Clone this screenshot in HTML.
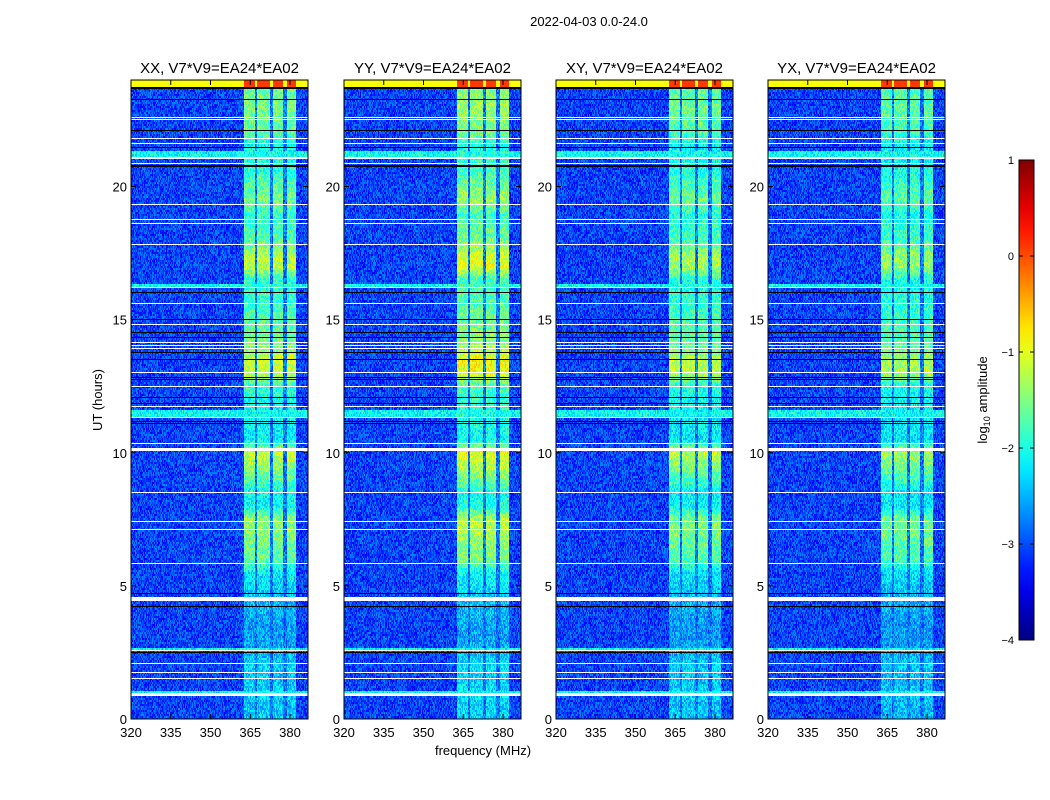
<!DOCTYPE html>
<html><head><meta charset="utf-8">
<style>
body{margin:0;background:#fff;font-family:"Liberation Sans",sans-serif;}
#wrap{position:relative;width:1050px;height:800px;overflow:hidden;}
canvas{position:absolute;image-rendering:pixelated;}
svg{position:absolute;left:0;top:0;}
</style></head>
<body>
<div id="wrap">
<svg id="svg" width="1050" height="800"></svg>
</div>
<script>
// ---- data ----
const panelTitles = ["XX, V7*V9=EA24*EA02","YY, V7*V9=EA24*EA02","XY, V7*V9=EA24*EA02","YX, V7*V9=EA24*EA02"];
const panelBandScale = [1.0, 1.1, 0.95, 0.9];
const xTicks = [320,335,350,365,380];
const yTicks = [0,5,10,15,20];
const cbTicks = [-4,-3,-2,-1,0,1];
const bands = [[362.6,366.8],[367.6,372.3],[373.4,377.5],[378.7,382.4]];
// band level (log10 amplitude) per half hour, 0..24h
const bandHours = [0,0.5,1,1.5,2,2.5,3,3.5,4,4.5,5,5.5,6,6.5,7,7.5,8,8.5,9,9.5,10,10.5,11,11.5,12,12.5,13,13.5,14,14.5,15,15.5,16,16.5,17,17.5,18,18.5,19,19.5,20,20.5,21,21.5,22,22.5,23,23.5,24];
const bandLevel = [-2.4,-2.4,-2.3,-2.4,-2.3,-2.5,-2.6,-2.6,-2.5,-2.5,-2.3,-2.2,-1.6,-1.6,-1.4,-1.4,-2.1,-2.1,-1.7,-1.4,-1.1,-2.2,-2.1,-2.1,-2.0,-1.9,-1.1,-1.1,-1.5,-1.6,-1.7,-1.8,-1.9,-1.9,-1.2,-1.3,-1.7,-1.8,-1.9,-1.5,-1.7,-1.9,-2.0,-2.1,-1.7,-1.6,-1.5,-1.6,-1.6];
const baseLevel = -3.05;
const gapLevel = -2.8;
const whiteRows = [[0.86,0.97],[1.5,1.53],[1.72,1.75],[2.06,2.09],[2.55,2.6],[3.63,3.66],[4.34,4.37],[4.45,4.57],[4.83,4.86],[5.84,5.87],[7.1,7.13],[7.4,7.43],[8.1,8.13],[8.4,8.43],[8.5,8.53],[10.08,10.18],[10.33,10.36],[10.5,10.53],[11.3,11.34],[11.72,11.76],[12.47,12.5],[13.0,13.04],[13.9,13.93],[14.02,14.05],[14.12,14.15],[14.8,14.83],[15.6,15.63],[16.18,16.24],[17.8,17.83],[18.5,18.53],[18.6,18.63],[18.75,18.78],[19.3,19.33],[20.86,20.9],[21.03,21.09],[21.6,21.63],[21.8,21.83],[22.5,22.53],[22.58,22.61]];
const blackRows = [[2.47,2.5],[2.73,2.76],[4.2,4.24],[4.68,4.72],[11.08,11.11],[11.15,11.18],[11.84,11.88],[12.06,12.1],[12.73,12.76],[12.8,12.83],[13.5,13.53],[13.75,13.78],[14.3,14.33],[14.5,14.53],[15.0,15.03],[15.2,15.23],[16.0,16.04],[20.75,20.79],[21.45,21.48],[22.1,22.13],[23.25,23.29],[23.67,23.73]];
const cyanRows = [[0.97,1.05],[2.6,2.65],[11.35,11.6],[16.24,16.32],[21.09,21.35]];
const cyanLevel = -2.1;
const topRow = [23.75,24.0];
const topLevel = -0.9;
const topBandLevel = 0.1;

// ---- geometry ----
const panelX = [131,344,556,768], panelY = 80, panelW = 177, panelH = 639;
const fMin = 320, fMax = 320 + panelW/2.65, tMin = 0, tMax = 24;
const xScale = f => (f - fMin)/(fMax - fMin)*panelW;
const yScale = t => panelH - (t - tMin)/(tMax - tMin)*panelH;

function jet(v){
  let t=(v+4)/5; t=Math.max(0,Math.min(1,t));
  const c=x=>Math.round(255*Math.max(0,Math.min(1,x)));
  return [c(1.5-Math.abs(4*t-3)),c(1.5-Math.abs(4*t-2)),c(1.5-Math.abs(4*t-1))];
}
function inR(arr,t){for(const r of arr){if(t>=r[0]&&t<=r[1])return true;}return false;}
function interp(h){
  for(let i=0;i<bandHours.length-1;i++){if(h>=bandHours[i]&&h<=bandHours[i+1]){const a=(h-bandHours[i])/(bandHours[i+1]-bandHours[i]);return bandLevel[i]*(1-a)+bandLevel[i+1]*a;}}
  return bandLevel[bandLevel.length-1];
}
function texture(x,y,p){let n=Math.sin(x*12.9898+y*78.233+p*37.719)*43758.5453;return n-Math.floor(n);}

const wrap=document.getElementById('wrap');
panelX.forEach((px,p)=>{
  const cv=document.createElement('canvas');
  
  
  cv.width=panelW;cv.height=panelH;cv.style.left=px+'px';cv.style.top=panelY+'px';
  const ctx=cv.getContext('2d');const img=ctx.createImageData(panelW,panelH);
  for(let y=0;y<panelH;y++){
    const t=tMax-(y+0.5)/panelH*(tMax-tMin);
    const white=inR(whiteRows,t), black=inR(blackRows,t), cyan=inR(cyanRows,t), top=t>=topRow[0];
    const bl=interp(t);
    for(let x=0;x<panelW;x++){
      const f=fMin+(x+0.5)/panelW*(fMax-fMin);
      let inBand=false;for(const b of bands){if(f>=b[0]&&f<=b[1])inBand=true;}
      const inSpan=f>=bands[0][0]&&f<=bands[3][1];
      let v=baseLevel;
      if(cyan)v=cyanLevel;
      if(inBand)v=Math.max(v,baseLevel+(bl-baseLevel)*panelBandScale[p]);
      else if(inSpan)v=Math.max(v,gapLevel);
      v+=(texture(x,Math.floor(y/2),p)-0.5)*0.75;
      if(top)v=inBand?topBandLevel:topLevel;
      let c=jet(v);
      if(white)c=[255,255,255];
      if(black)c=[0,0,0];
      const i=(y*panelW+x)*4;img.data[i]=c[0];img.data[i+1]=c[1];img.data[i+2]=c[2];img.data[i+3]=255;
    }
  }
  ctx.putImageData(img,0,0);
  wrap.insertBefore(cv,document.getElementById('svg'));
});

// ---- axes (SVG) ----
const NS='http://www.w3.org/2000/svg',svg=document.getElementById('svg');
function el(tag,attrs,text){const e=document.createElementNS(NS,tag);for(const k in attrs)e.setAttribute(k,attrs[k]);if(text!==undefined)e.textContent=text;svg.appendChild(e);return e;}
const sup=el('text',{x:589,y:26,'font-size':13,'text-anchor':'middle'},'2022-04-03 0.0-24.0');


panelX.forEach((px,p)=>{
  const fr=el('rect',{x:px,y:panelY,width:panelW,height:panelH,fill:'none',stroke:'#000','stroke-width':1});
  
  
  const tt=el('text',{x:px+panelW/2,y:73,'font-size':15,'text-anchor':'middle'},panelTitles[p]);
  
  
  xTicks.forEach(v=>{
    const x=px+xScale(v);
    el('line',{x1:x,y1:panelY+panelH,x2:x,y2:panelY+panelH-5,stroke:'#000'});
    el('line',{x1:x,y1:panelY,x2:x,y2:panelY+5,stroke:'#000'});
    const l=el('text',{x:x,y:737,'font-size':13,'text-anchor':'middle'},v);
    
    
  });
  yTicks.forEach(v=>{
    const y=panelY+yScale(v);
    el('line',{x1:px,y1:y,x2:px+5,y2:y,stroke:'#000'});
    el('line',{x1:px+panelW,y1:y,x2:px+panelW-5,y2:y,stroke:'#000'});
    const l=el('text',{x:px-4,y:y+5,'font-size':13,'text-anchor':'end'},v);
    
    
  });
});
const xl=el('text',{x:483,y:755,'font-size':13,'text-anchor':'middle'},'frequency (MHz)');


const yl=el('text',{x:0,y:0,'font-size':13,'text-anchor':'middle',transform:'translate(102,400) rotate(-90)'},'UT (hours)');



// colorbar
const cbX=1019,cbY=160,cbW=15,cbH=480;
const defs=el('defs',{});
const g=document.createElementNS(NS,'linearGradient');g.setAttribute('id','jet');g.setAttribute('x1','0');g.setAttribute('y1','1');g.setAttribute('x2','0');g.setAttribute('y2','0');defs.appendChild(g);
for(let i=0;i<=20;i++){const v=-4+5*i/20;const c=jet(v);const s=document.createElementNS(NS,'stop');s.setAttribute('offset',i/20);s.setAttribute('stop-color','rgb('+c.join(',')+')');g.appendChild(s);}
const cb=el('rect',{x:cbX,y:cbY,width:cbW,height:cbH,fill:'url(#jet)',stroke:'#000'});


cbTicks.forEach(v=>{
  const y=cbY+cbH-(v+4)/5*cbH;
  el('line',{x1:cbX,y1:y,x2:cbX+4,y2:y,stroke:'#000'});
  el('line',{x1:cbX+cbW,y1:y,x2:cbX+cbW-4,y2:y,stroke:'#000'});
  const l=el('text',{x:cbX-5,y:y+4,'font-size':11,'text-anchor':'end'},v<0?'\u2212'+(-v):v);
  
  
});
const cl=el('text',{x:0,y:0,'font-size':13,'text-anchor':'middle',transform:'translate(987,400) rotate(-90)'});


cl.innerHTML='log<tspan font-size="9" dy="3">10</tspan><tspan dy="-3"> amplitude</tspan>';
</script>
</body></html>
